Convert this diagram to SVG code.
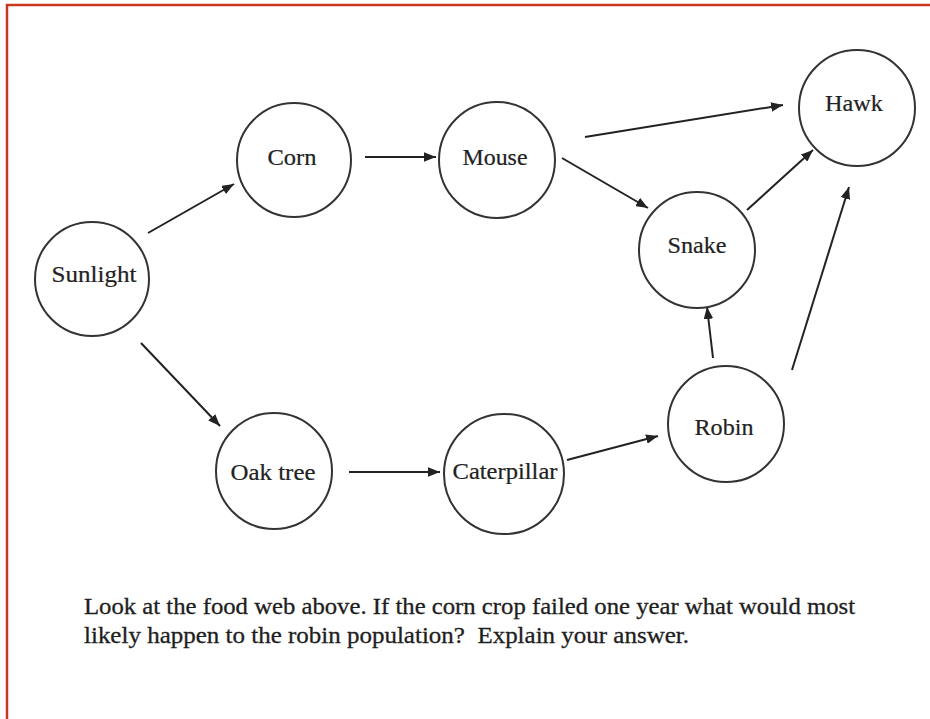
<svg xmlns="http://www.w3.org/2000/svg" width="930" height="719" viewBox="0 0 930 719">
<style>
.node circle{fill:#fff;stroke:#333;stroke-width:2}
.node text{font-family:"Liberation Serif","Times New Roman",serif;font-size:23px;fill:#222;stroke:#222;stroke-width:0.2;text-anchor:middle}
.edge{stroke:#222;stroke-width:2;fill:none;marker-end:url(#ah)}
.q{font-family:"Liberation Serif","Times New Roman",serif;font-size:23px;fill:#1e1e1e;stroke:#1e1e1e;stroke-width:0.3}
</style>
<defs>
<marker id="ah" viewBox="0 0 10 8" refX="10" refY="4" markerWidth="6" markerHeight="4.8" orient="auto" markerUnits="strokeWidth">
<path d="M0,0 L10,4 L0,8 Z" fill="#222"/>
</marker>
</defs>
<rect x="0" y="0" width="930" height="719" fill="#fff"/>
<path d="M7,719 V5 H930" fill="none" stroke="#c8381f" stroke-width="2.5"/>
<g id="connectors">
<line class="edge" x1="148" y1="233" x2="234" y2="184"/>
<line class="edge" x1="365" y1="157" x2="436" y2="157"/>
<line class="edge" x1="585" y1="137" x2="783" y2="105"/>
<line class="edge" x1="562" y1="158" x2="648" y2="208"/>
<line class="edge" x1="747" y1="210" x2="813" y2="150"/>
<line class="edge" x1="792" y1="370" x2="849" y2="187"/>
<line class="edge" x1="713" y1="358" x2="707" y2="307"/>
<line class="edge" x1="141" y1="343" x2="220" y2="426"/>
<line class="edge" x1="349" y1="472" x2="440" y2="472"/>
<line class="edge" x1="567" y1="460" x2="658" y2="436"/>
</g>
<g id="sunlight" class="node"><circle cx="92" cy="279" r="57"/><text x="94" y="282" textLength="85" lengthAdjust="spacingAndGlyphs">Sunlight</text></g>
<g id="corn" class="node"><circle cx="294" cy="160" r="57"/><text x="292" y="165" textLength="49" lengthAdjust="spacingAndGlyphs">Corn</text></g>
<g id="mouse" class="node"><circle cx="497" cy="160" r="58"/><text x="495" y="165" textLength="65" lengthAdjust="spacingAndGlyphs">Mouse</text></g>
<g id="hawk" class="node"><circle cx="857" cy="108" r="58"/><text x="854" y="111" textLength="58" lengthAdjust="spacingAndGlyphs">Hawk</text></g>
<g id="snake" class="node"><circle cx="697" cy="250" r="58"/><text x="697" y="253" textLength="59" lengthAdjust="spacingAndGlyphs">Snake</text></g>
<g id="oak-tree" class="node"><circle cx="274" cy="471" r="58"/><text x="273" y="480" textLength="85" lengthAdjust="spacingAndGlyphs">Oak tree</text></g>
<g id="caterpillar" class="node"><circle cx="504" cy="474" r="60"/><text x="505" y="479" textLength="105" lengthAdjust="spacingAndGlyphs">Caterpillar</text></g>
<g id="robin" class="node"><circle cx="726" cy="424" r="58"/><text x="724" y="435" textLength="59" lengthAdjust="spacingAndGlyphs">Robin</text></g>
<text class="q" x="84" y="614" textLength="771" lengthAdjust="spacingAndGlyphs">Look at the food web above. If the corn crop failed one year what would most</text>
<text class="q" x="84" y="643" textLength="605" lengthAdjust="spacingAndGlyphs" xml:space="preserve">likely happen to the robin population?  Explain your answer.</text>
</svg>
